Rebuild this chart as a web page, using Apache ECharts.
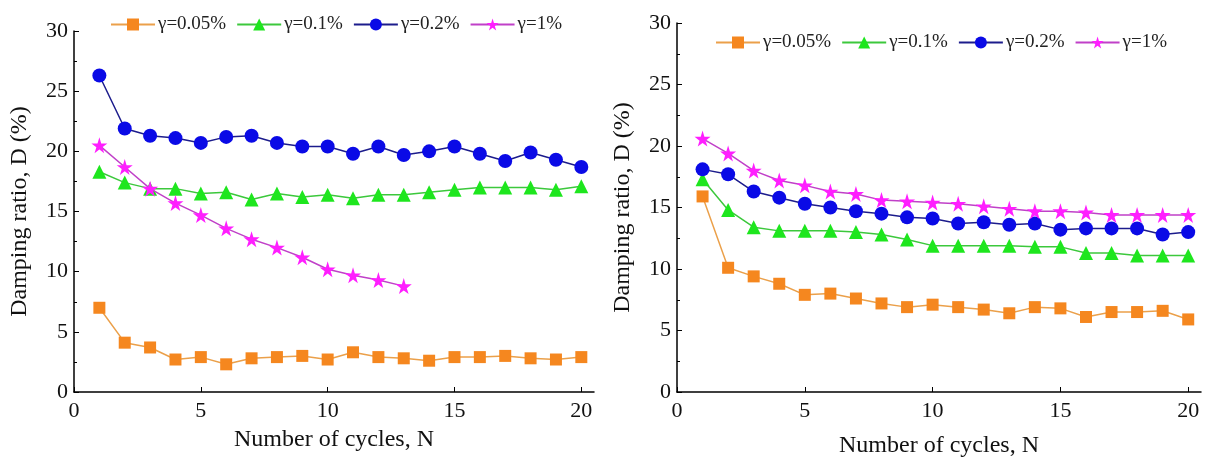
<!DOCTYPE html>
<html>
<head>
<meta charset="utf-8">
<script src="https://cdn.jsdelivr.net/npm/echarts@6/dist/echarts.min.js"></script>
<style>
  html, body { margin: 0; padding: 0; background: #fff; }
  #chart { width: 1207px; height: 466px; }
</style>
</head>
<body>
<div id="chart"></div>
<script>
// 循环次数
const cycles = [1, 2, 3, 4, 5, 6, 7, 8, 9, 10, 11, 12, 13, 14, 15, 16, 17, 18, 19, 20];
const seriesNames = ["γ=0.05%", "γ=0.1%", "γ=0.2%", "γ=1%"];
const xTicks = [0, 5, 10, 15, 20];

// 左图
const leftG005 = [7.0, 4.1, 3.7, 2.7, 2.9, 2.3, 2.8, 2.9, 3.0, 2.7, 3.3, 2.9, 2.8, 2.6, 2.9, 2.9, 3.0, 2.8, 2.7, 2.9];
const leftG01 = [18.3, 17.4, 16.9, 16.9, 16.5, 16.6, 16.0, 16.5, 16.2, 16.4, 16.1, 16.4, 16.4, 16.6, 16.8, 17.0, 17.0, 17.0, 16.8, 17.1];
const leftG02 = [26.3, 21.9, 21.3, 21.1, 20.7, 21.2, 21.3, 20.7, 20.4, 20.4, 19.8, 20.4, 19.7, 20.0, 20.4, 19.8, 19.2, 19.9, 19.3, 18.7];
const leftG1 = [20.5, 18.7, 16.9, 15.7, 14.7, 13.6, 12.7, 12.0, 11.2, 10.2, 9.7, 9.3, 8.8];

// 右图
const rightG005 = [15.9, 10.1, 9.4, 8.8, 7.9, 8.0, 7.6, 7.2, 6.9, 7.1, 6.9, 6.7, 6.4, 6.9, 6.8, 6.1, 6.5, 6.5, 6.6, 5.9];
const rightG01 = [17.3, 14.8, 13.4, 13.1, 13.1, 13.1, 13.0, 12.8, 12.4, 11.9, 11.9, 11.9, 11.9, 11.8, 11.8, 11.3, 11.3, 11.1, 11.1, 11.1];
const rightG02 = [18.1, 17.7, 16.3, 15.8, 15.3, 15.0, 14.7, 14.5, 14.2, 14.1, 13.7, 13.8, 13.6, 13.7, 13.2, 13.3, 13.3, 13.3, 12.8, 13.0];
const rightG1 = [20.6, 19.4, 18.0, 17.2, 16.8, 16.3, 16.1, 15.6, 15.5, 15.4, 15.3, 15.1, 14.9, 14.7, 14.7, 14.6, 14.4, 14.4, 14.4, 14.4];

const FONT = "Liberation Serif";

const styles = [
  { symbol: "rect", size: 12, line: "#eba04a", fill: "#f5871f" },
  { symbol: "triangle", size: 14, line: "#3cc83c", fill: "#1ee61e" },
  { symbol: "circle", size: 14, line: "#1c1c8c", fill: "#0a0ae6" },
  { symbol: "path://M50,0 L61,35 L98,35 L68,57 L79,91 L50,70 L21,91 L32,57 L2,35 L39,35 Z", size: 16, line: "#c040c8", fill: "#ff1eff" }
];

function pairs(values) {
  return values.map((v, i) => [cycles[i], v]);
}

function makeSeries(name, values, idx, axisIdx) {
  const s = styles[idx];
  return {
    name: name,
    type: "line",
    xAxisIndex: axisIdx,
    yAxisIndex: axisIdx,
    data: pairs(values),
    symbol: s.symbol,
    symbolSize: s.size,
    lineStyle: { color: s.line, width: 1.5 },
    itemStyle: { color: s.fill },
    z: 2 + idx,
    animation: false
  };
}

function xAxisCfg(gridIndex, gap) {
  return {
    type: "value",
    gridIndex: gridIndex,
    min: 0,
    max: 20.5,
    name: "Number of cycles, N",
    nameLocation: "middle",
    nameGap: gap,
    nameTextStyle: { fontFamily: FONT, fontSize: 24, color: "#111" },
    axisLine: { show: true, onZero: false, lineStyle: { color: "#000", width: 1.5 } },
    axisTick: { show: true, inside: true, length: 5, customValues: xTicks, lineStyle: { color: "#000" } },
    axisLabel: { customValues: xTicks, fontFamily: FONT, fontSize: 22, color: "#111", margin: 8 },
    splitLine: { show: false }
  };
}

function yAxisCfg(gridIndex) {
  return {
    type: "value",
    gridIndex: gridIndex,
    min: 0,
    max: 30,
    interval: 5,
    name: "Damping ratio, D (%)",
    nameLocation: "middle",
    nameGap: 42,
    nameTextStyle: { fontFamily: FONT, fontSize: 24, color: "#111" },
    axisLine: { show: true, onZero: false, lineStyle: { color: "#000", width: 1.5 } },
    axisTick: { show: true, inside: true, length: 5, lineStyle: { color: "#000" } },
    minorTick: { show: true, splitNumber: 2, length: 3, lineStyle: { color: "#000" } },
    axisLabel: { fontFamily: FONT, fontSize: 22, color: "#111", margin: 6 },
    splitLine: { show: false }
  };
}

function legendCfg(left, top) {
  return {
    left: left,
    top: top,
    data: seriesNames,
    itemWidth: 44,
    itemHeight: 15,
    itemGap: 10,
    textStyle: { fontFamily: FONT, fontSize: 19, color: "#222", padding: [0, 0, 0, -2] },
    selectedMode: false
  };
}

const chart = echarts.init(document.getElementById("chart"), null, { renderer: "canvas" });
chart.setOption({
  backgroundColor: "#fff",
  animation: false,
  legend: [legendCfg(105, 10), legendCfg(710, 28)],
  grid: [
    { left: 74, top: 31, width: 520, height: 361 },
    { left: 677, top: 23, width: 524, height: 369 }
  ],
  xAxis: [xAxisCfg(0, 36), xAxisCfg(1, 42)],
  yAxis: [yAxisCfg(0), yAxisCfg(1)],
  series: [
    makeSeries(seriesNames[0], leftG005, 0, 0),
    makeSeries(seriesNames[1], leftG01, 1, 0),
    makeSeries(seriesNames[2], leftG02, 2, 0),
    makeSeries(seriesNames[3], leftG1, 3, 0),
    makeSeries(seriesNames[0], rightG005, 0, 1),
    makeSeries(seriesNames[1], rightG01, 1, 1),
    makeSeries(seriesNames[2], rightG02, 2, 1),
    makeSeries(seriesNames[3], rightG1, 3, 1)
  ]
});
</script>
</body>
</html>
